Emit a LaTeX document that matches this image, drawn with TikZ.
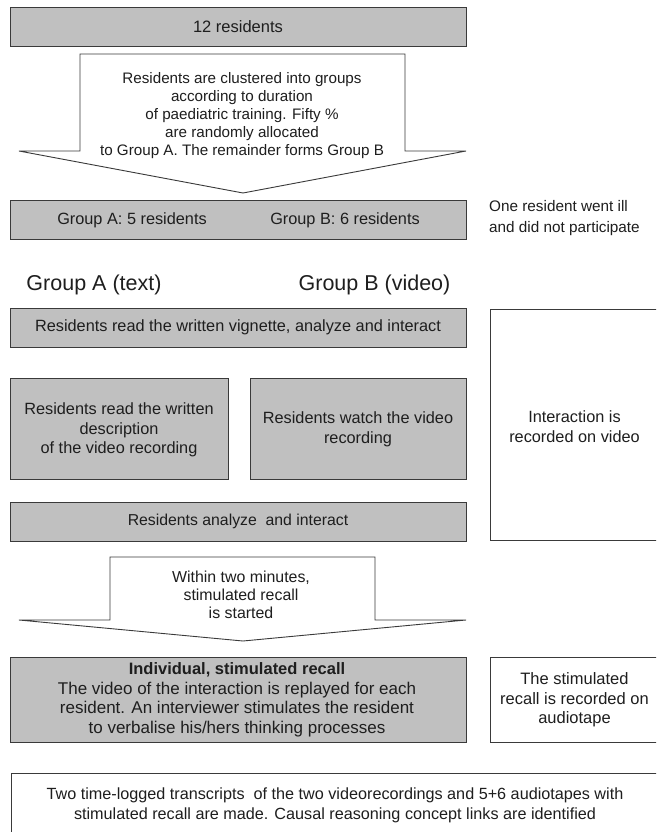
\documentclass[tikz,border=0pt]{standalone}
\usepackage{fontspec}
\setmainfont{Liberation Sans}
\definecolor{boxfill}{HTML}{C0C0C0}
\definecolor{bordc}{HTML}{3A3A3A}
\definecolor{txtc}{HTML}{1E1E1E}
\newcommand{\fs}[2]{\fontsize{#1}{#2}\selectfont}
\begin{document}
\begin{tikzpicture}[x=1pt,y=-1pt,
  gbox/.style={draw=bordc, fill=boxfill, line width=0.9pt, inner sep=0pt},
  wbox/.style={draw=bordc, fill=white, line width=0.9pt, inner sep=0pt},
  txt/.style={text=txtc, font=\fs{16.3}{19.5}, align=center, inner sep=0pt},
  big/.style={text=txtc, font=\fs{21.5}{24}, inner sep=0pt},
  arr/.style={draw=bordc, fill=white, line width=0.9pt, line join=miter}]
\useasboundingbox (0,0) rectangle (656,832);
\clip (0,0) rectangle (656,832);
\fill[white] (0,0) rectangle (656,832);

% top box
\node[gbox, minimum width=456pt, minimum height=39pt] (b1) at (238,26.5) {};
\node[txt, font=\fs{16.5}{19.5}] (t1) at (b1) {12 residents};

% arrow 1
\draw[arr] (80,54) -- (405,54) -- (405,151) -- (466,151) -- (243,193) -- (19,151) -- (80,151) -- cycle;
\node[txt, font=\fs{15.2}{18}] (a1) at (242,116) {Residents are clustered into groups\\according to duration\\of paediatric training. Fifty \%\\are randomly allocated\\to Group A. The remainder forms Group B};

% groups box
\node[gbox, minimum width=456pt, minimum height=39pt] (b2) at (238,219.5) {};
\node[txt] (g1) at (132,220) {Group A: 5 residents};
\node[txt] (g2) at (345,220) {Group B: 6 residents};
\node[txt, align=left, anchor=west, font=\fs{15.3}{21}] (ill) at (489,218.5) {One resident went ill\\and did not participate};

% group labels
\node[big] (ga) at (94,285) {Group A (text)};
\node[big] (gb) at (374.5,285) {Group B (video)};

% vignette
\node[gbox, minimum width=456pt, minimum height=39pt] (b3) at (238,327.5) {};
\node[txt] (t3) at (b3) {Residents read the written vignette, analyze and interact};

% right box 1
\draw[wbox] (490,309) rectangle (670,540);
\node[txt, font=\fs{16.3}{20.5}] (r1) at (574.5,426.5) {Interaction is\\recorded on video};

% two boxes
\node[gbox, minimum width=218pt, minimum height=101pt] (b4a) at (119,428.5) {};
\node[txt] (t4a) at (119,430) {Residents read the written\\description\\of the video recording};
\node[gbox, minimum width=216pt, minimum height=101pt] (b4b) at (358,428.5) {};
\node[txt] (t4b) at (358,429.5) {Residents watch the video\\recording};

% analyze box
\node[gbox, minimum width=456pt, minimum height=39pt] (b5) at (238,521.5) {};
\node[txt, font=\fs{15.8}{19.5}] (t5) at (b5) {Residents analyze\ \ and interact};

% arrow 2
\draw[arr] (110,557) -- (375,557) -- (375,620) -- (466,620) -- (243,641) -- (19,620) -- (110,620) -- cycle;
\node[txt, font=\fs{15.9}{18}] (a2) at (241,595) {Within two minutes,\\stimulated recall\\is started};

% recall box
\node[gbox, minimum width=456pt, minimum height=85pt] (b6) at (238,699.5) {};
\node[txt, font=\fs{17}{19.5}] (t6) at (237,700) {{\fs{16.5}{19.5}\textbf{Individual, stimulated recall}}\\The video of the interaction is replayed for each\\resident. An interviewer stimulates the resident\\to verbalise his/hers thinking processes};

% right box 2
\draw[wbox] (490,657) rectangle (670,742);
\node[txt, font=\fs{16.5}{19.5}] (r2) at (574.5,700) {The stimulated\\recall is recorded on\\audiotape};

% bottom box
\draw[wbox] (11,773) rectangle (670,850);
\node[txt, font=\fs{16.2}{20}] (t7) at (335,805) {Two time-logged transcripts\ \ of the two videorecordings and 5+6 audiotapes with\\stimulated recall are made. Causal reasoning concept links are identified};
\end{tikzpicture}
\end{document}
